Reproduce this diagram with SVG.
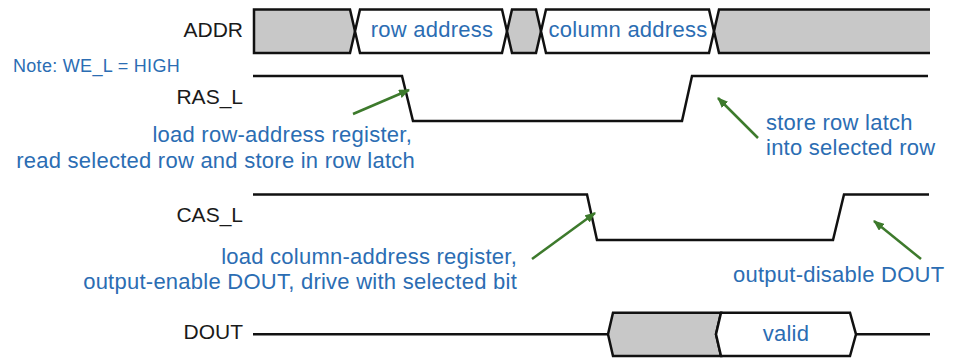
<svg xmlns="http://www.w3.org/2000/svg" width="955" height="358" viewBox="0 0 955 358">
<defs>
<style>
.sig{fill:none;stroke:#111;stroke-width:2.5;stroke-linejoin:miter}
.gray{fill:#c8c8c8;stroke:#111;stroke-width:2.5}
.white{fill:#fff;stroke:#111;stroke-width:2.5}
.lbl{font-family:"Liberation Sans",Arial,sans-serif;font-size:21px;fill:#1a1a1a}
.note{font-family:"Liberation Sans",Arial,sans-serif;font-size:22px;fill:#2b6db3;letter-spacing:0.25px}
.arr{fill:none;stroke:#3d7a2c;stroke-width:2.5}
</style>
<marker id="ah" viewBox="0 0 10 8" refX="9" refY="4" markerWidth="11" markerHeight="9" markerUnits="userSpaceOnUse" orient="auto">
<path d="M0,0 L10,4 L0,8 z" fill="#3d7a2c"/>
</marker>
</defs>
<rect width="955" height="358" fill="#fff"/>

<g id="addr">
<text class="lbl" x="243" y="37" text-anchor="end">ADDR</text>
<path d="M254,9.5 H350 L355,31.3 L350,53 H254 Z" fill="#c8c8c8" stroke="#111" stroke-width="2.5"/>
<path class="white" d="M360,9.5 H502 L507,31.3 L502,53 H360 L355,31.3 Z"/>
<path class="gray" d="M512,9.5 H536 L541,31.3 L536,53 H512 L507,31.3 Z"/>
<path class="white" d="M546,9.5 H709 L714,31.3 L709,53 H546 L541,31.3 Z"/>
<path d="M719,9.5 H930 V53 H719 L714,31.3 Z" fill="#c8c8c8"/>
<path class="sig" d="M930,9.5 H719 L714,31.3 L719,53 H930"/>
<text class="note" x="432" y="37" text-anchor="middle">row address</text>
<text class="note" x="628" y="37" text-anchor="middle">column address</text>
</g>

<g id="note">
<text class="note" x="13" y="72" style="font-size:18px;letter-spacing:0.3px">Note: WE_L = HIGH</text>
</g>

<g id="ras">
<text class="lbl" x="243" y="104" text-anchor="end">RAS_L</text>
<path class="sig" d="M253,76 H402 L413,121 H682 L692,76 H928"/>
</g>

<g id="cas">
<text class="lbl" x="243" y="222" text-anchor="end">CAS_L</text>
<path class="sig" d="M253,194.5 H587 L597,240 H833 L844,194.5 H929"/>
</g>

<g id="dout">
<text class="lbl" x="243" y="339" text-anchor="end">DOUT</text>
<path class="sig" d="M253,334.3 H608"/>
<path class="sig" d="M856,334.3 H930"/>
<path class="gray" d="M613,312.7 H721 L716,334.3 L721,356 H613 L608,334.3 Z"/>
<path class="white" d="M721,312.7 H850 L856,334.3 L850,356 H721 L716,334.3 Z"/>
<text class="note" x="786" y="341" text-anchor="middle">valid</text>
</g>

<g id="ann-row">
<text class="note" x="412" y="142" text-anchor="end">load row-address register,</text>
<text class="note" x="415" y="168" text-anchor="end">read selected row and store in row latch</text>
</g>

<g id="ann-store">
<text class="note" x="766" y="130">store row latch</text>
<text class="note" x="766" y="155">into selected row</text>
</g>

<g id="ann-col">
<text class="note" x="517" y="264" text-anchor="end">load column-address register,</text>
<text class="note" x="517" y="289" text-anchor="end">output-enable DOUT, drive with selected bit</text>
</g>

<g id="ann-dis">
<text class="note" x="733" y="282">output-disable DOUT</text>
</g>

<g id="connectors">
<line class="arr" x1="353" y1="114" x2="409" y2="90" marker-end="url(#ah)"/>
<line class="arr" x1="758" y1="138" x2="718" y2="98" marker-end="url(#ah)"/>
<line class="arr" x1="532" y1="259" x2="595" y2="213" marker-end="url(#ah)"/>
<line class="arr" x1="921" y1="259" x2="874" y2="221" marker-end="url(#ah)"/>
</g>
</svg>
